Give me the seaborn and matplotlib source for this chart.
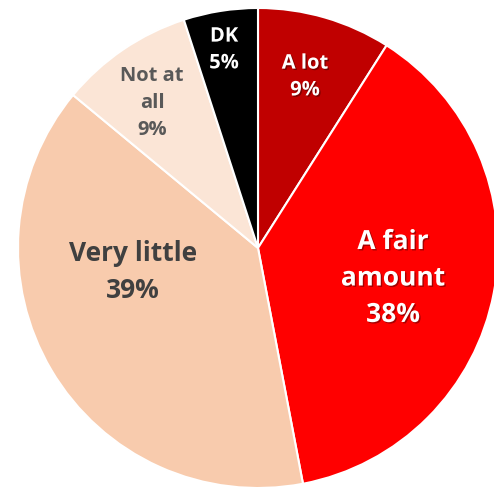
import matplotlib
matplotlib.use("Agg")
import matplotlib.pyplot as plt
import matplotlib.patheffects as pe
import seaborn as sns

sns.set_theme(style="white")
plt.rcParams['font.family'] = ['Open Sans', 'DejaVu Sans']

categories = ["A lot", "A fair amount", "Very little", "Not at all", "DK"]
values = [9, 38, 39, 9, 5]
label_texts = ["A lot\n9%", "A fair\namount\n38%", "Very little\n39%", "Not at\nall\n9%", "DK\n5%"]
colors = ["#C00000", "#FF0000", "#F8CBAD", "#FBE5D6", "#000000"]
text_colors = ["white", "white", "#404040", "#595959", "white"]
font_sizes = [14.5, 19, 19, 14.5, 14.5]
# label positions in pixel coordinates (x, y from top)
label_pos = [(305, 77), (393, 278), (133, 272), (152, 103), (224, 50)]

W, H = 494, 488
fig = plt.figure(figsize=(W / 100, H / 100), dpi=100)
ax = fig.add_axes([0, 0, 1, 1])

cx, cy, r = 258, H - 248, 240
ax.pie(values, colors=colors, startangle=90, counterclock=False,
       radius=r, center=(cx, cy), frame=True,
       wedgeprops=dict(edgecolor="white", linewidth=1.5))
ax.set_xlim(0, W)
ax.set_ylim(0, H)
ax.set_aspect("equal")
ax.axis("off")

for txt, (px, py), tc, fs in zip(label_texts, label_pos, text_colors, font_sizes):
    effects = [pe.SimplePatchShadow(offset=(1, -1), shadow_rgbFace="black", alpha=0.35), pe.Normal()] if tc == "white" else []
    ax.text(px, H - py, txt, ha="center", va="center", color=tc, fontsize=fs,
            fontweight="bold", linespacing=1.45, path_effects=effects)

fig.savefig("out.png", dpi=100)
